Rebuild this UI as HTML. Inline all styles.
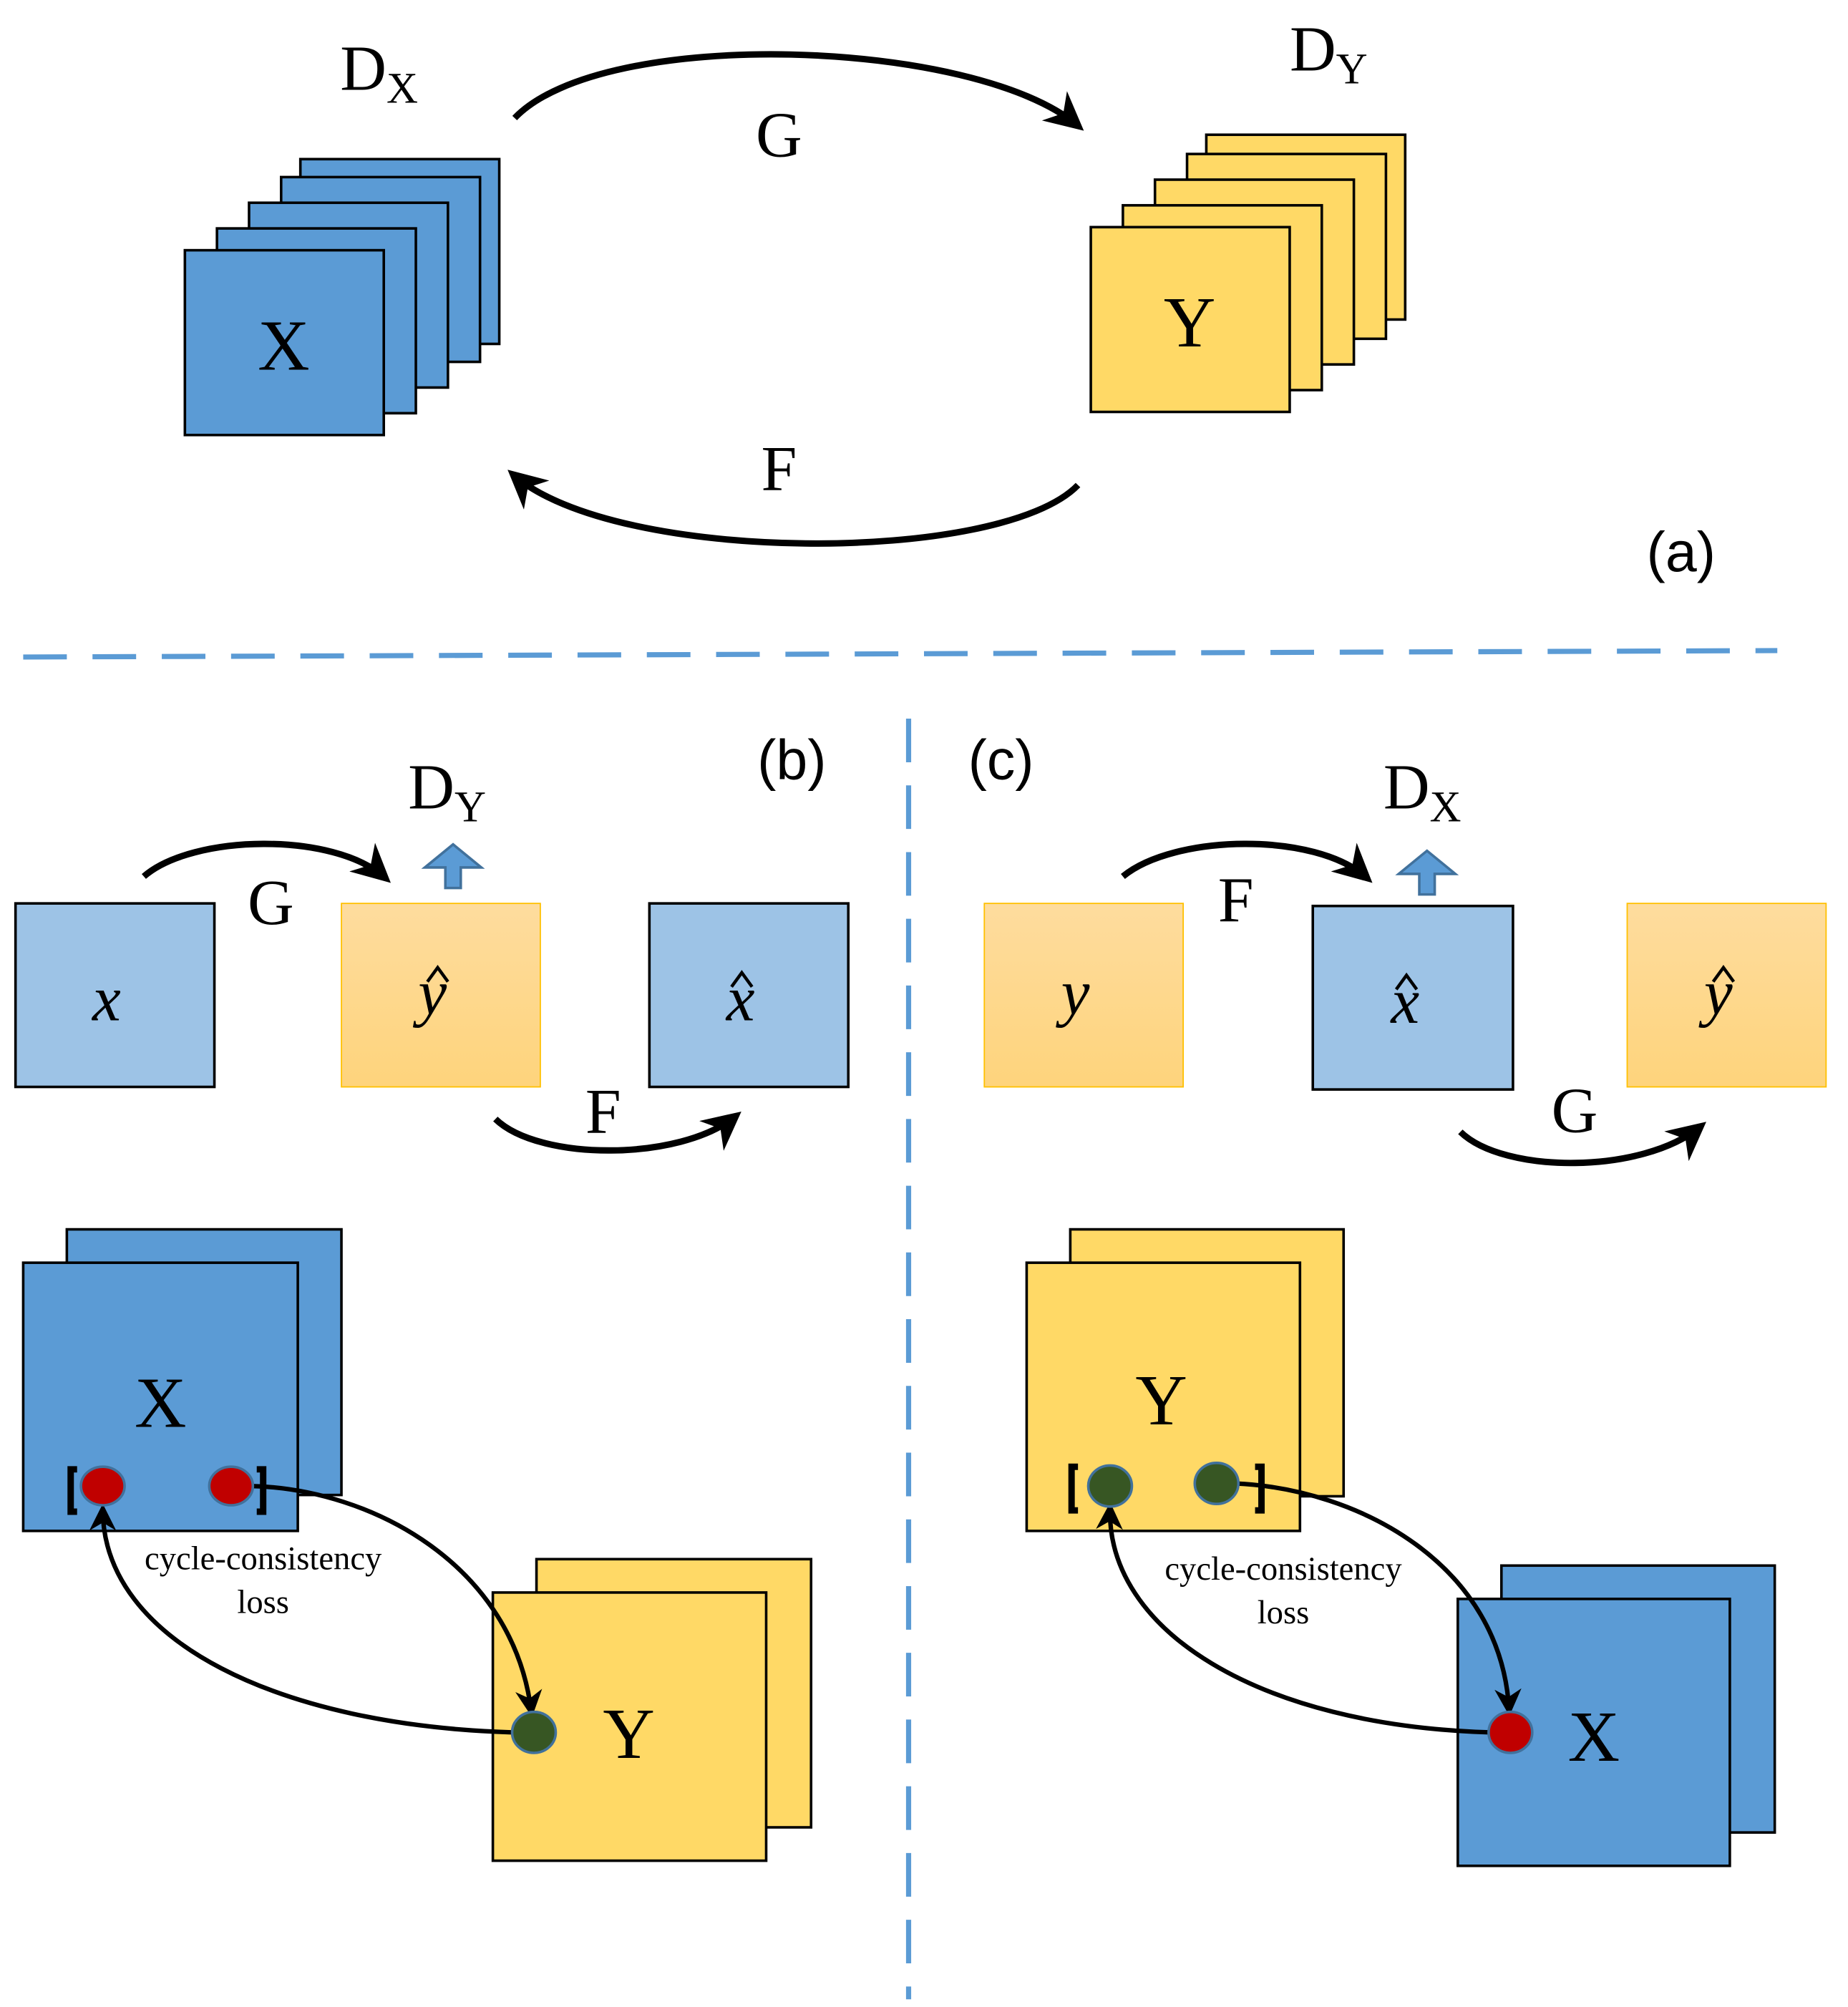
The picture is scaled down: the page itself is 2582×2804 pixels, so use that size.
<!DOCTYPE html>
<html><head><meta charset="utf-8"><style>html,body{margin:0;padding:0;background:#fff}svg{display:block}</style></head>
<body>
<svg width="2582" height="2804" viewBox="0 0 1440 1564" xmlns="http://www.w3.org/2000/svg" font-family="Liberation Serif, serif">
<defs>
<linearGradient id="og" x1="0" y1="0" x2="0" y2="1"><stop offset="0" stop-color="#FEDC9E"/><stop offset="1" stop-color="#FED47C"/></linearGradient>
<marker id="ah" viewBox="0 0 10 10" refX="8" refY="5" markerWidth="6" markerHeight="6" orient="auto"><path d="M0,0 L10,5 L0,10 L3,5 z" fill="#000"/></marker>
<marker id="ah2" viewBox="0 0 10 10" refX="8" refY="5" markerWidth="6" markerHeight="6" orient="auto"><path d="M0,0 L10,5 L0,10 L3,5 z" fill="#000"/></marker>
</defs>
<g stroke="#000" stroke-width="2">
<rect x="234" y="124" width="155" height="144" fill="#5B9BD5"/>
<rect x="219" y="138" width="155" height="144" fill="#5B9BD5"/>
<rect x="194" y="158" width="155" height="144" fill="#5B9BD5"/>
<rect x="169" y="178" width="155" height="144" fill="#5B9BD5"/>
<rect x="144" y="195" width="155" height="144" fill="#5B9BD5"/>
<rect x="940" y="105" width="155" height="144" fill="#FFD966"/>
<rect x="925" y="120" width="155" height="144" fill="#FFD966"/>
<rect x="900" y="140" width="155" height="144" fill="#FFD966"/>
<rect x="875" y="160" width="155" height="144" fill="#FFD966"/>
<rect x="850" y="177" width="155" height="144" fill="#FFD966"/>
</g>
<text x="221" y="288" font-size="56" text-anchor="middle">X</text>
<text x="927" y="270" font-size="56" text-anchor="middle">Y</text>
<text x="265" y="70" font-size="50">D<tspan font-size="34" dy="10">X</tspan></text>
<text x="1005" y="55" font-size="50">D<tspan font-size="34" dy="10">Y</tspan></text>
<text x="607" y="122" font-size="50" text-anchor="middle">G</text>
<text x="607" y="382" font-size="50" text-anchor="middle">F</text>
<text x="1310" y="445" font-size="44" text-anchor="middle" font-family="Liberation Sans, sans-serif">(a)</text>
<g fill="none" stroke="#000" stroke-width="5">
<path d="M401,92 C470,20 760,30 840,98" marker-end="url(#ah)"/>
<path d="M840,378 C780,440 480,440 400,370" marker-end="url(#ah)"/>
<path d="M112,683 C150,650 260,648 300,684" marker-end="url(#ah)"/>
<path d="M386,872 C420,905 530,905 573,870" marker-end="url(#ah)"/>
<path d="M875,683 C915,650 1025,648 1065,684" marker-end="url(#ah)"/>
<path d="M1138,882 C1172,915 1280,915 1325,878" marker-end="url(#ah)"/>
</g>
<path d="M18,512 L1385,507" stroke="#5B9BD5" stroke-width="4" stroke-dasharray="34,20"/>
<path d="M708,560 L708,1558" stroke="#5B9BD5" stroke-width="4" stroke-dasharray="34,18"/>
<text x="617" y="607" font-size="44" text-anchor="middle" font-family="Liberation Sans, sans-serif">(b)</text>
<text x="780" y="607" font-size="44" text-anchor="middle" font-family="Liberation Sans, sans-serif">(c)</text>
<rect x="12" y="704" width="155" height="143" fill="#9DC3E6" stroke="#000" stroke-width="2"/>
<rect x="266" y="704" width="155" height="143" fill="url(#og)" stroke="#FFC000" stroke-width="1"/>
<rect x="506" y="704" width="155" height="143" fill="#9DC3E6" stroke="#000" stroke-width="2"/>
<rect x="767" y="704" width="155" height="143" fill="url(#og)" stroke="#FFC000" stroke-width="1"/>
<rect x="1023" y="706" width="156" height="143" fill="#9DC3E6" stroke="#000" stroke-width="2"/>
<rect x="1268" y="704" width="155" height="143" fill="url(#og)" stroke="#FFC000" stroke-width="1"/>
<g font-size="50" font-style="italic" text-anchor="middle">
<text x="83" y="795">x</text>
<text x="337" y="790">y</text>
<text x="577" y="795">x</text>
<text x="838" y="790">y</text>
<text x="1095" y="797">x</text>
<text x="1339" y="790">y</text>
</g>
<g fill="none" stroke="#000" stroke-width="2.5">
<polyline points="333,765 341,754 349,765"/>
<polyline points="570,769 578,758 586,769"/>
<polyline points="1088,771 1096,760 1104,771"/>
<polyline points="1335,765 1343,754 1351,765"/>
</g>
<text x="318" y="630" font-size="50">D<tspan font-size="34" dy="10">Y</tspan></text>
<text x="1078" y="630" font-size="50">D<tspan font-size="34" dy="10">X</tspan></text>
<path d="M347,692 L347,676 L331,676 L353,658 L375,676 L359,676 L359,692 z" fill="#5B9BD5" stroke="#41719C" stroke-width="2"/>
<path d="M1106,697 L1106,681 L1090,681 L1112,663 L1134,681 L1118,681 L1118,697 z" fill="#5B9BD5" stroke="#41719C" stroke-width="2"/>
<text x="211" y="720" font-size="50" text-anchor="middle">G</text>
<text x="470" y="883" font-size="50" text-anchor="middle">F</text>
<text x="963" y="718" font-size="50" text-anchor="middle">F</text>
<text x="1227" y="882" font-size="50" text-anchor="middle">G</text>
<g stroke="#000" stroke-width="2">
<rect x="52" y="958" width="214" height="207" fill="#5B9BD5"/>
<rect x="18" y="984" width="214" height="209" fill="#5B9BD5"/>
<rect x="418" y="1215" width="214" height="209" fill="#FFD966"/>
<rect x="384" y="1241" width="213" height="209" fill="#FFD966"/>
<rect x="834" y="958" width="213" height="208" fill="#FFD966"/>
<rect x="800" y="984" width="213" height="209" fill="#FFD966"/>
<rect x="1170" y="1220" width="213" height="208" fill="#5B9BD5"/>
<rect x="1136" y="1246" width="212" height="208" fill="#5B9BD5"/>
</g>
<g font-size="56" text-anchor="middle">
<text x="125" y="1112">X</text>
<text x="490" y="1370">Y</text>
<text x="905" y="1110">Y</text>
<text x="1242" y="1372">X</text>
</g>
<g fill="none" stroke="#000" stroke-width="5">
<path d="M60,1145 L55,1145 L55,1178 L60,1178"/>
<path d="M200,1145 L205,1145 L205,1178 L200,1178"/>
<path d="M840,1143 L835,1143 L835,1177 L840,1177"/>
<path d="M978,1143 L983,1143 L983,1177 L978,1177"/>
</g>
<g fill="none" stroke="#000" stroke-width="3.5">
<path d="M195,1158 C290,1160 400,1220 414,1334" marker-end="url(#ah2)"/>
<path d="M400,1350 C220,1345 80,1280 80,1176" marker-end="url(#ah2)"/>
<path d="M962,1156 C1060,1160 1170,1220 1176,1333" marker-end="url(#ah2)"/>
<path d="M1162,1350 C980,1345 862,1270 865,1175" marker-end="url(#ah2)"/>
</g>
<g stroke="#41719C" stroke-width="2">
<ellipse cx="80" cy="1158" rx="17" ry="15" fill="#C00000"/>
<ellipse cx="180" cy="1158" rx="17" ry="15" fill="#C00000"/>
<ellipse cx="416" cy="1350" rx="17" ry="16" fill="#375623"/>
<ellipse cx="865" cy="1158" rx="17" ry="16" fill="#375623"/>
<ellipse cx="948" cy="1156" rx="17" ry="16" fill="#375623"/>
<ellipse cx="1177" cy="1350" rx="17" ry="16" fill="#C00000"/>
</g>
<g font-size="26" text-anchor="middle">
<text x="205" y="1223">cycle-consistency</text>
<text x="205" y="1257">loss</text>
<text x="1000" y="1231">cycle-consistency</text>
<text x="1000" y="1265">loss</text>
</g>
</svg>
</body></html>
